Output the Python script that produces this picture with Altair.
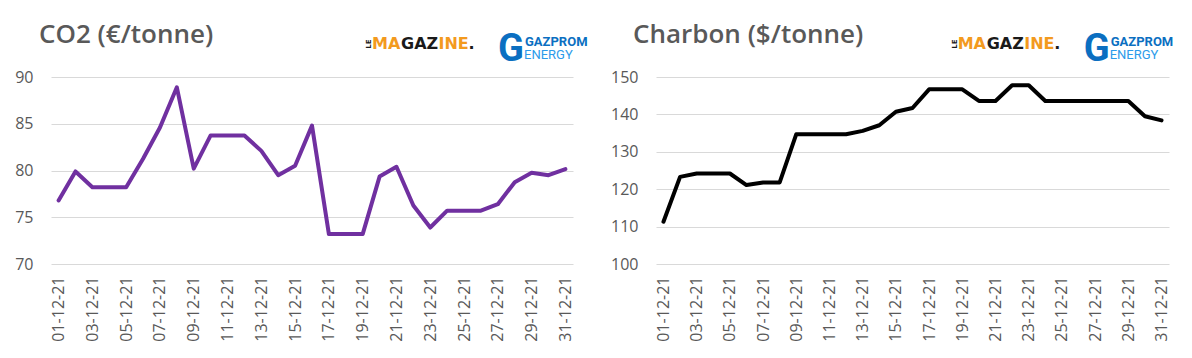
import altair as alt
import pandas as pd

dates = ["01-12-21", "02-12-21", "03-12-21", "04-12-21", "05-12-21", "06-12-21", "07-12-21",
         "08-12-21", "09-12-21", "10-12-21", "11-12-21", "12-12-21", "13-12-21", "14-12-21",
         "15-12-21", "16-12-21", "17-12-21", "18-12-21", "19-12-21", "20-12-21", "21-12-21",
         "22-12-21", "23-12-21", "24-12-21", "25-12-21", "26-12-21", "27-12-21", "28-12-21",
         "29-12-21", "30-12-21", "31-12-21"]
shown_dates = ["01-12-21", "03-12-21", "05-12-21", "07-12-21", "09-12-21", "11-12-21",
               "13-12-21", "15-12-21", "17-12-21", "19-12-21", "21-12-21", "23-12-21",
               "25-12-21", "27-12-21", "29-12-21", "31-12-21"]
co2 = [76.8, 79.9, 78.2, 78.2, 78.2, 81.25, 84.6, 88.9, 80.2, 83.75, 83.75, 83.75, 82.1, 79.5,
       80.5, 84.8, 73.2, 73.2, 73.2, 79.35, 80.4, 76.25, 73.9, 75.7, 75.7, 75.7, 76.4, 78.75,
       79.75, 79.5, 80.15]
charbon = [111.3, 123.3, 124.2, 124.2, 124.2, 121.1, 121.8, 121.8, 134.7, 134.7, 134.7, 134.7,
           135.6, 137.1, 140.7, 141.7, 146.7, 146.7, 146.7, 143.6, 143.6, 147.8, 147.8, 143.6,
           143.6, 143.6, 143.6, 143.6, 143.6, 139.5, 138.4]
co2_ticks = [70, 75, 80, 85, 90]
charbon_ticks = [100, 110, 120, 130, 140, 150]

GRAY = "#595959"
FONT = "Open Sans"


def deco(text, x, y, color, size, weight="normal", font=FONT, align="left",
         baseline="alphabetic", angle=0):
    kw = dict(align=align, baseline=baseline, color=color, fontSize=size,
              fontWeight=weight, font=font)
    if angle:
        kw["angle"] = angle
    return alt.Chart(pd.DataFrame({"t": [text]})).mark_text(**kw).encode(
        text="t:N", x=alt.value(x), y=alt.value(y))


def logos(dx):
    orange = "#F39A1E"
    blk = "#1a1a1a"
    blue = "#0B6FC1"
    lblue = "#2C9BEA"
    bold = "DejaVu Sans"
    return [
        deco("LE", 318 + dx, -33, blk, 7, "bold", bold, "center", "middle", 270),
        deco("MA", 321 + dx, -28, orange, 16, "bold", bold),
        deco("GAZ", 350 + dx, -28, blk, 16, "bold", bold),
        deco("INE", 387.5 + dx, -28, orange, 16, "bold", bold),
        deco(".", 417.5 + dx, -28, blk, 16, "bold", bold),
        deco("G", 447 + dx, -16, blue, 38, "bold", "Roboto"),
        deco("GAZPROM", 474 + dx, -31, blue, 13, "bold", "Roboto"),
        deco("ENERGY", 473 + dx, -18, lblue, 13, "normal", "Roboto"),
    ]


def panel(values, ticks, color, title, title_dx, logo_dx, width):
    df = pd.DataFrame({"date": dates, "v": values})
    line = alt.Chart(df).mark_line(
        color=color, strokeWidth=4, strokeJoin="round", strokeCap="round"
    ).encode(
        x=alt.X("date:O", sort=dates, title=None,
                scale=alt.Scale(type="point", padding=0.45),
                axis=alt.Axis(values=shown_dates, labelAngle=270, labelFontSize=16,
                              labelColor=GRAY, labelFont=FONT, labelPadding=12,
                              ticks=False, domain=False, grid=False)),
        y=alt.Y("v:Q", title=None,
                scale=alt.Scale(domain=[ticks[0], ticks[-1]], nice=False, zero=False),
                axis=alt.Axis(values=ticks, labelFontSize=16, labelColor=GRAY,
                              labelFont=FONT, labelPadding=18, ticks=False,
                              domain=False, grid=True, gridColor="#d9d9d9",
                              gridWidth=1)),
    )
    layers = [line, deco(title, title_dx, -34, GRAY, 26, 600)] + logos(logo_dx)
    return alt.layer(*layers).properties(width=width, height=187)


left = panel(co2, co2_ticks, "#7030A0", "CO2 (€/tonne)", -12, 0, 522)
right = panel(charbon, charbon_ticks, "#000000", "Charbon ($/tonne)", -23, -19.3, 513)

chart = alt.hconcat(left, right, spacing=83, bounds="flush").properties(
    padding={"left": 6, "top": 14, "right": 0, "bottom": 0}
).configure_view(stroke=None)

chart.save("out.html", embed_options={"renderer": "svg", "actions": False})
